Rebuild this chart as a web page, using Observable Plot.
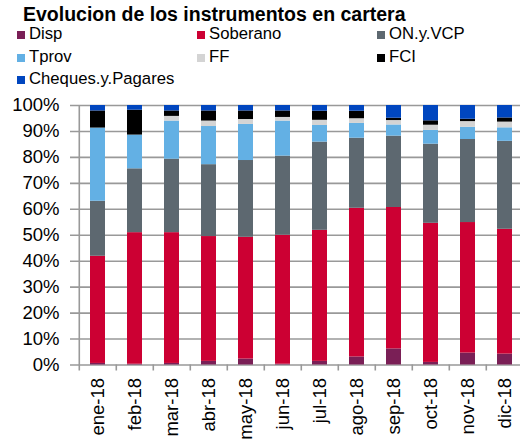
<!DOCTYPE html>
<html>
<head>
<meta charset="utf-8">
<script src="https://cdn.jsdelivr.net/npm/d3@7"></script>
<script src="https://cdn.jsdelivr.net/npm/@observablehq/plot@0.6"></script>
<style>
  html, body { margin: 0; padding: 0; background: #fff; overflow: hidden; }
  body { width: 520px; height: 443px; font-family: "Liberation Sans", Arial, sans-serif; }
  #head { position: relative; width: 520px; height: 95px; }
  #title { position: absolute; left: 23px; top: 4.5px; font-size: 19.5px; font-weight: bold; line-height: 1; color: #000; white-space: nowrap; }
  .item { position: absolute; font-size: 16.7px; line-height: 1; color: #000; white-space: nowrap; }
  .sw { display: inline-block; width: 8px; height: 8px; margin-right: 4px; vertical-align: 0px; }
  #chart svg { display: block; overflow: visible; }
</style>
</head>
<body>
<div id="head"><div id="title">Evolucion de los instrumentos en cartera</div></div>
<div id="chart"></div>
<script>
const months = ["ene-18","feb-18","mar-18","abr-18","may-18","jun-18","jul-18","ago-18","sep-18","oct-18","nov-18","dic-18"];
const seriesNames = ["Disp","Soberano","ON.y.VCP","Tprov","FF","FCI","Cheques.y.Pagares"];
const seriesColors = ["#7a1f56","#cc0033","#5d6870","#63b0e4","#d4d4d4","#000000","#0046bf"];

const disp     = [0.6, 0.3, 0.6, 1.4, 2.3, 0.3, 1.4, 3.1, 6.2, 1.0, 4.6, 4.2];
const soberano = [41.3, 50.7, 50.4, 48.1, 46.9, 49.7, 50.5, 57.3, 54.5, 53.6, 50.3, 48.1];
const onVcp    = [21.2, 24.6, 28.3, 27.7, 29.6, 30.5, 34.0, 27.0, 27.5, 30.5, 32.0, 33.9];
const tprov    = [28.2, 13.0, 14.7, 14.7, 13.9, 13.5, 6.4, 5.7, 4.3, 5.3, 4.7, 5.2];
const ff       = [0.0, 0.0, 1.8, 2.1, 1.9, 1.4, 2.0, 1.8, 1.7, 2.0, 2.2, 2.2];
const fci      = [6.6, 9.6, 2.1, 3.9, 3.3, 2.5, 3.5, 2.9, 0.9, 1.7, 0.9, 1.6];
const cheques  = [2.1, 1.8, 2.1, 2.1, 2.1, 2.1, 2.2, 2.2, 4.9, 5.9, 5.3, 4.8];

const yTicks = [0,10,20,30,40,50,60,70,80,90,100];

const seriesValues = [disp, soberano, onVcp, tprov, ff, fci, cheques];
const data = [];
seriesNames.forEach((s, si) => months.forEach((m, mi) => data.push({month: m, series: s, value: seriesValues[si][mi]})));

// legend
const head = document.getElementById("head");
const cols = [17, 197, 377], tops = [25.9, 48.9, 70.9];
seriesNames.forEach((s, i) => {
  const d = document.createElement("div");
  d.className = "item";
  d.style.left = cols[i % 3] + "px";
  d.style.top = tops[Math.floor(i / 3)] + "px";
  d.innerHTML = `<span class="sw" style="background:${seriesColors[i]}"></span>${s}`;
  head.appendChild(d);
});

const W = 520, H = 348, left = 76, right = 525;
const step = (right - left) / months.length;

const chart = Plot.plot({
  width: W,
  height: H,
  marginTop: 10,
  marginBottom: 78.5,
  marginLeft: left,
  marginRight: W - right,
  style: {fontFamily: "Liberation Sans, Arial, sans-serif", background: "transparent", color: "#000"},
  x: {domain: months, range: [left, right], paddingInner: 0.6, paddingOuter: 0.3, label: null},
  y: {domain: [0, 100], label: null},
  color: {domain: seriesNames, range: seriesColors},
  marks: [
    Plot.ruleY(yTicks, {y: d => d, stroke: "#999", strokeWidth: 1.6, insetLeft: -6}),
    Plot.barY(data, {x: "month", y: "value", fill: "series"}),
    Plot.ruleX([months[0]], {x: d => d, dx: -step / 2, y1: 100, y2: 0, insetBottom: -6, stroke: "#999", strokeWidth: 1.6}),
    Plot.ruleX(months.slice(1), {x: d => d, dx: -step / 2, y1: 0, y2: 0, insetBottom: -6, stroke: "#999", strokeWidth: 1.6}),
    Plot.axisY({ticks: yTicks, tickFormat: d => d + "%", tickSize: 0, tickPadding: 17, fontSize: 18.5, label: null}),
    Plot.axisX({tickSize: 0, tickRotate: -90, tickPadding: 13, fontSize: 18.5, label: null})
  ]
});
document.getElementById("chart").appendChild(chart);
</script>
</body>
</html>
